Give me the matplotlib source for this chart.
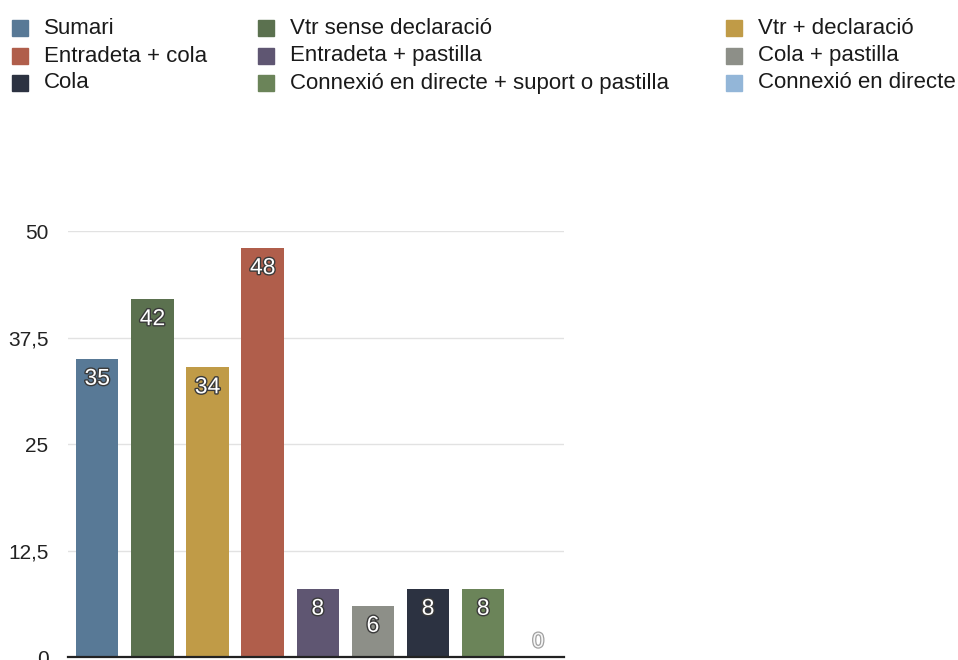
import matplotlib
matplotlib.use("Agg")
import matplotlib.pyplot as plt
import matplotlib.patheffects as pe
from matplotlib.patches import Rectangle

plt.rcParams['font.family'] = ['Liberation Sans', 'DejaVu Sans']

# dades
categories = ['Sumari', 'Vtr sense declaració', 'Vtr + declaració',
              'Entradeta + cola', 'Entradeta + pastilla', 'Cola + pastilla',
              'Cola', 'Connexió en directe + suport o pastilla',
              'Connexió en directe']
values = [35, 42, 34, 48, 8, 6, 8, 8, 0]
colors = ['#587996', '#5b714f', '#c09b47', '#b05e4b', '#5f5672',
          '#8d8f88', '#2c3241', '#6b8459', '#93b6d8']
yticks = [0, 12.5, 25, 37.5, 50]
ylabels = ['0', '12,5', '25', '37,5', '50']

fig = plt.figure(figsize=(9.58, 6.6), dpi=100)
ax = fig.add_axes([0.071, 0.0045, 0.518, 0.6455])

x = range(len(values))
ax.bar([i + 0.03 for i in x], values, width=0.77, color=colors, zorder=2)
ax.set_xlim(-0.5, len(values) - 0.5)
ax.set_ylim(0, 50)
ax.set_yticks(yticks)
ax.set_yticklabels(ylabels, fontsize=15, color='#222222')
ax.set_xticks([])
ax.tick_params(axis='y', length=0, pad=14)
ax.yaxis.grid(True, color='#e2e2e2', linewidth=1, zorder=0)
ax.set_axisbelow(True)
for s in ['top', 'right', 'left']:
    ax.spines[s].set_visible(False)
ax.spines['bottom'].set_color('#222222')
ax.spines['bottom'].set_linewidth(1.6)
ax.spines['bottom'].set_zorder(3)

# etiquetes de valor
for i, v in enumerate(values):
    if v > 0:
        ax.annotate(str(v), (i + 0.03, v), xytext=(0, -14), textcoords='offset points',
                    ha='center', va='center', fontsize=16.5, color='white',
                    path_effects=[pe.withStroke(linewidth=2, foreground='#3a3a3a')],
                    zorder=4)
    else:
        ax.annotate(str(v), (i + 0.03, 0), xytext=(0, 11), textcoords='offset points',
                    ha='center', va='center', fontsize=15, color='#f6f6f6',
                    path_effects=[pe.withStroke(linewidth=1.8, foreground='#a0a0a0')],
                    zorder=4)

# llegenda (3 columnes, ordre per files)
col_x = [12, 258, 726]
row_y = [28, 56, 83]
W, H = 958.0, 660.0
for k, (name, c) in enumerate(zip(categories, colors)):
    r, col = divmod(k, 3)
    sx = col_x[col]
    sy = row_y[r]
    fig.patches.append(Rectangle((sx / W, 1 - (sy + 8) / H), 16 / W, 16 / H,
                                 transform=fig.transFigure, color=c))
    fig.text((sx + 32) / W, 1 - sy / H, name, fontsize=16, color='#1a1a1a',
             va='center', ha='left')

fig.savefig('out.png', dpi=100)
